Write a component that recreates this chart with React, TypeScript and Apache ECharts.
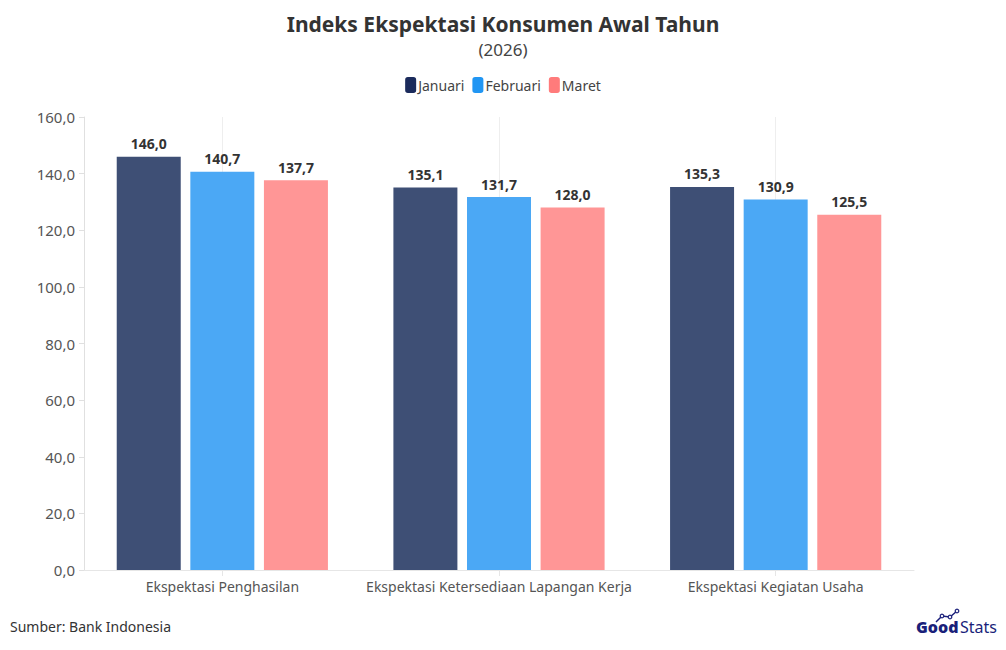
import React, { useEffect, useRef } from "react";
import * as echarts from "echarts";

const categories = [
  "Ekspektasi Penghasilan",
  "Ekspektasi Ketersediaan Lapangan Kerja",
  "Ekspektasi Kegiatan Usaha",
];
const januari = [146.0, 135.1, 135.3];
const februari = [140.7, 131.7, 130.9];
const maret = [137.7, 128.0, 125.5];
const seriesNames = ["Januari", "Februari", "Maret"];
const yTicks = { min: 0, max: 160, interval: 20 };

const FONT = "'Noto Sans', 'Open Sans', sans-serif";
const fmt = (v: number) => v.toFixed(1).replace(".", ",");

export default function App() {
  const ref = useRef<HTMLDivElement>(null);
  useEffect(() => {
    if (!ref.current) return;
    const chart = echarts.init(ref.current, undefined, { renderer: "svg" });
    const barColors = ["#3E4F75", "#4BA8F5", "#FF9696"];
    const legendColors = ["#1B2B5C", "#2196F3", "#FF7B7B"];
    const datas = [januari, februari, maret];
    chart.setOption({
      animation: false,
      backgroundColor: "#ffffff",
      title: [
        {
          text: "Indeks Ekspektasi Konsumen Awal Tahun",
          left: "center",
          top: 12,
          padding: 0,
          textStyle: { fontFamily: FONT, fontSize: 21, lineHeight: 24, fontWeight: "bold", color: "#333333" },
        },
        {
          text: "(2026)",
          left: "center",
          top: 40,
          padding: 0,
          textStyle: { fontFamily: FONT, fontSize: 17, lineHeight: 18, fontWeight: "normal", color: "#444444" },
        },
      ],
      legend: {
        top: 72,
        left: "center",
        itemWidth: 11,
        itemHeight: 16,
        itemGap: 8,
        icon: "roundRect",
        textStyle: { fontFamily: FONT, fontSize: 14, color: "#444444", padding: [0, 0, 0, -3] },
        data: seriesNames.map((n, i) => ({ name: n, itemStyle: { color: legendColors[i] } })),
      },
      grid: { left: 84, right: 92, top: 117, bottom: 80 },
      xAxis: {
        type: "category",
        data: categories,
        axisLine: { show: true, lineStyle: { color: "#e6e6e6" } },
        axisTick: { show: true, interval: 0, alignWithLabel: true, length: 6, lineStyle: { color: "#e6e6e6" } },
        splitLine: { show: true, interval: 0, alignWithLabel: true, lineStyle: { color: "#eeeeee" } },
        axisLabel: { interval: 0, fontFamily: FONT, fontSize: 14, color: "#555555", margin: 9 },
      },
      yAxis: {
        type: "value",
        min: yTicks.min,
        max: yTicks.max,
        interval: yTicks.interval,
        axisLine: { show: true, lineStyle: { color: "#e0e0e0" } },
        axisTick: { show: true, length: 5, lineStyle: { color: "#e0e0e0" } },
        splitLine: { show: false },
        axisLabel: { fontFamily: FONT, fontSize: 15, color: "#555555", margin: 9, formatter: (v: number) => fmt(v) },
      },
      series: seriesNames.map((name, i) => ({
        name,
        type: "bar",
        data: datas[i],
        barWidth: 64,
        barGap: "15%",
        itemStyle: { color: barColors[i] },
        label: {
          show: true,
          position: "top",
          distance: 6,
          formatter: (p: any) => fmt(p.value),
          fontFamily: FONT,
          fontSize: 14,
          fontWeight: "bold",
          color: "#333333",
        },
      })),
      graphic: [
        {
          type: "text",
          left: 10,
          top: 619,
          style: { text: "Sumber: Bank Indonesia", fontFamily: FONT, fontSize: 14, fill: "#333333" },
        },
        {
          type: "text",
          left: 916,
          top: 619,
          style: { text: "Good", fontFamily: FONT, fontSize: 16, fontWeight: 900, fill: "#1A1F7A" },
        },
        {
          type: "text",
          left: 960,
          top: 619,
          style: { text: "Stats", fontFamily: FONT, fontSize: 16, fill: "#1A1F7A" },
        },
        {
          type: "polyline",
          shape: { points: [[936, 622], [942, 616], [950, 617], [957, 611]] },
          style: { stroke: "#1A1F7A", lineWidth: 1.5, fill: "none" },
        },
        { type: "circle", shape: { cx: 942, cy: 616, r: 1.8 }, style: { fill: "#fff", stroke: "#1A1F7A", lineWidth: 1.2 } },
        { type: "circle", shape: { cx: 950, cy: 617, r: 1.8 }, style: { fill: "#fff", stroke: "#1A1F7A", lineWidth: 1.2 } },
        { type: "circle", shape: { cx: 957, cy: 611, r: 1.8 }, style: { fill: "#fff", stroke: "#1A1F7A", lineWidth: 1.2 } },
      ],
    });
    return () => chart.dispose();
  }, []);
  return <div ref={ref} style={{ width: 1006, height: 650, position: "absolute", left: 0, top: 0 }} />;
}
